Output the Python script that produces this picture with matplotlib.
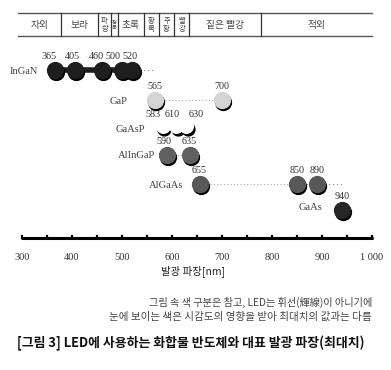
import matplotlib.pyplot as plt

plt.rcParams['font.family'] = ['Noto Sans CJK KR', 'DejaVu Sans']

# 색 구분 띠 (경계 파장 nm)
band_edges = [292, 378, 452, 478, 492, 544, 574, 604, 634, 778, 1000]
band_names = ['자외', '보라', '파\n랑', '청\n록', '초록', '황\n록', '주\n황', '빨\n강', '짙은 빨강', '적외']

# 화합물별 발광 파장
rows = ['InGaN', 'GaP', 'GaAsP', 'AlInGaP', 'AlGaAs', 'GaAs']
waves = [[365, 405, 460, 500, 520], [565, 700], [583, 610, 630],
         [590, 635], [655, 850, 890], [940]]
row_y = [70, 100, 128, 155, 184, 210]
dot_colors = ['#1e1e1e', '#d4d4d4', 'white', '#606060', '#585858', '#262626']
dotted_to = [565, None, None, None, 940, None]
# 숫자 라벨 가로 위치 보정 (nm)
label_shift = [[-12, -4, -12, -18, -4], [0, 0], [-22, -10, 18], [-6, 0], [0, 0, 0], [0]]
name_shift = [-33, -53, -37, -24, -33, -40]

ticks = list(range(300, 1001, 100))
tick_labels = ['300', '400', '500', '600', '700', '800', '900', '1 000']

fig = plt.figure(figsize=(3.91, 3.70), dpi=100)
ax = fig.add_axes([0, 0, 1, 1])
px = lambda x: 300 + (x - 22) * 2   # 픽셀 -> nm
ax.set_xlim(px(0), px(391))
ax.set_ylim(370, 0)
ax.axis('off')

# 위쪽 색 띠
ax.plot([band_edges[0], band_edges[-1]], [13, 13], color='#555', lw=1)
ax.plot([band_edges[0], band_edges[-1]], [36, 36], color='#555', lw=1)
for e in band_edges[1:-1]:
    ax.plot([e, e], [13, 36], color='#333', lw=0.9)
for i, name in enumerate(band_names):
    cx = (band_edges[i] + band_edges[i + 1]) / 2
    fs = 7 if '\n' not in name else 5.3
    if name == '청\n록':
        fs = 3.8
    ax.text(cx, 25, name, ha='center', va='center', fontsize=fs, color='#444',
            linespacing=0.95)

serif = 'Liberation Serif'
for k, (name, w, y, c, d) in enumerate(zip(rows, waves, row_y, dot_colors, dotted_to)):
    if name == 'InGaN':
        ax.plot([w[0], w[-1]], [y, y], color='#1e1e1e', lw=4, zorder=2)
    elif len(w) > 1:
        ax.plot([w[0], w[-1]], [y, y], color='#aaa', lw=0.8, ls=(0, (1, 2)), zorder=1)
    if d:
        ax.plot([w[-1], d], [y, y], color='#888', lw=0.8, ls=(0, (1, 2.5)), zorder=1)
    if name == 'GaAsP':
        ax.scatter([v + 1.5 for v in w], [y + 1] * len(w), s=85, color='black', zorder=3)
        ax.scatter([v - 2 for v in w], [y - 1.8] * len(w), s=95, color='white', zorder=4)
    else:
        ax.scatter([v + 2.5 for v in w], [y + 1.5] * len(w), s=130, color='black', zorder=3)
        ax.scatter(w, [y] * len(w), s=130, color=c, zorder=4)
    for v, sh in zip(w, label_shift[k]):
        ax.text(v + sh, y - 9, str(v), ha='center', va='bottom', fontsize=7.3,
                family=serif, color='#333')
    ty = y - 2 if name == 'GaAs' else y + 1
    ax.text(w[0] + name_shift[k], ty, name, ha='right', va='center', fontsize=7.6,
            family=serif, color='#444')

# 아래 축
ax.plot([300, 1000], [238, 238], color='black', lw=2.2, solid_capstyle='round')
for t in range(300, 1001, 50):
    ax.plot([t, t], [235.5, 238], color='black', lw=1.6)
for t, lab in zip(ticks, tick_labels):
    ax.text(t, 257, lab, ha='center', va='center', fontsize=7.5, family=serif, color='#333')
ax.text(px(193), 271, '발광 파장[nm]', ha='center', va='center', fontsize=7.5, color='#222')

ax.text(px(372), 302, '그림 속 색 구분은 참고, LED는 휘선(輝線)이 아니기에',
        ha='right', va='center', fontsize=7.3, color='#444')
ax.text(px(372), 317, '눈에 보이는 색은 시감도의 영향을 받아 최대치의 값과는 다름',
        ha='right', va='center', fontsize=7.6, color='#444')
ax.text(px(191), 343, '[그림 3] LED에 사용하는 화합물 반도체와 대표 발광 파장(최대치)',
        ha='center', va='center', fontsize=9.3, fontweight='bold', color='#111')

fig.savefig('out.png', dpi=100)
